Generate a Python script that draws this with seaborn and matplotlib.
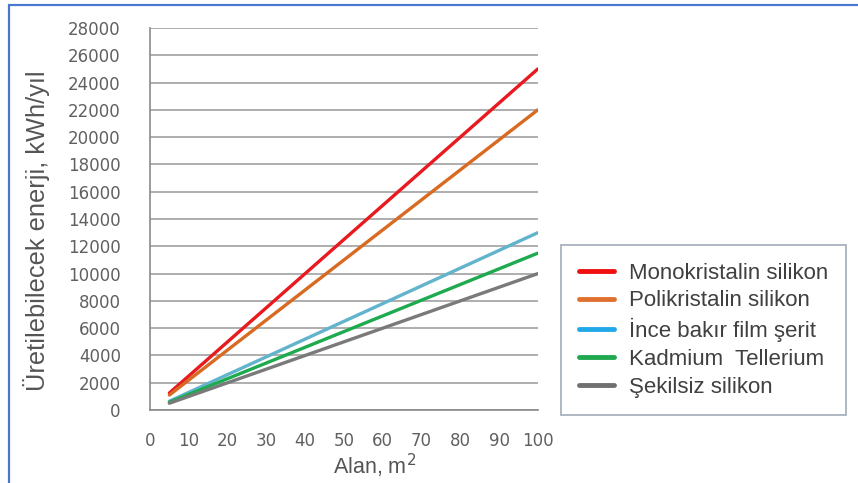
import pandas as pd
import numpy as np
import matplotlib
matplotlib.use('Agg')
import matplotlib.pyplot as plt
import seaborn as sns
from matplotlib.patches import Rectangle

# data
alan = [5, 100]
monokristalin = [1250, 25000]
polikristalin = [1100, 22000]
ince_bakir = [650, 13000]
kadmium = [575, 11500]
sekilsiz = [500, 10000]

series_names = ['Monokristalin silikon', 'Polikristalin silikon',
                'İnce bakır film şerit', 'Kadmium  Tellerium', 'Şekilsiz silikon']
series_values = [monokristalin, polikristalin, ince_bakir, kadmium, sekilsiz]
line_colors = ['#e81a1f', '#d86a22', '#62b3cc', '#1eaa4e', '#7a7a7a']
legend_colors = ['#f01010', '#e07030', '#20a8e8', '#20a850', '#707070']

x_ticks = list(range(0, 101, 10))
y_ticks = list(range(0, 28001, 2000))

df = pd.DataFrame({
    'Alan': np.tile(alan, len(series_names)),
    'Enerji': np.concatenate(series_values),
    'Tip': np.repeat(series_names, len(alan)),
})

sns.set_style('white')
plt.rcParams['font.family'] = ['Liberation Sans', 'DejaVu Sans']

fig = plt.figure(figsize=(8.58, 4.83), dpi=100)
ax = fig.add_axes([0.1748, 0.151, 0.452, 0.791])

sns.lineplot(data=df, x='Alan', y='Enerji', hue='Tip', hue_order=series_names,
             palette=dict(zip(series_names, line_colors)), linewidth=2.4,
             legend=False, ax=ax, zorder=3)

ax.set_xlim(0, 100)
ax.set_ylim(0, 28000)
ax.set_xticks(x_ticks)
ax.set_yticks(y_ticks)
ax.set_xticklabels([str(t) for t in x_ticks])
ax.set_yticklabels([str(t) for t in y_ticks])

tick_color = '#606060'
ax.tick_params(axis='both', colors='#8a8a8a', labelcolor=tick_color, labelsize=12,
               direction='out', width=1, labelfontfamily='DejaVu Sans')
ax.tick_params(axis='y', length=6, pad=15)
ax.tick_params(axis='x', length=3, pad=13)

ax.yaxis.grid(True, color='#a8a8a8', linewidth=1.3)
ax.xaxis.grid(False)
for side in ['top', 'right']:
    ax.spines[side].set_visible(False)
for side in ['left', 'bottom']:
    ax.spines[side].set_color('#8a8a8a')
    ax.spines[side].set_linewidth(1.2)

ax.set_xlabel('Alan, m$^2$', fontsize=15.5, color='#555555')
ax.set_ylabel('Üretilebilecek enerji, kWh/yıl', fontsize=18.3, color='#555555')
ax.xaxis.set_label_coords(0.58, -0.108)
ax.yaxis.set_label_coords(-0.258, 0.47)

# legend drawn outside the plot area
handles = [plt.Line2D([0], [0], color=c, linewidth=3.5) for c in legend_colors]
leg = fig.legend(handles, series_names, loc='upper left',
                 bbox_to_anchor=(561 / 858, 1 - 245 / 483), borderaxespad=0,
                 frameon=True, fontsize=16, handlelength=1.6, handletextpad=0.65,
                 labelspacing=0.3, borderpad=0.8, fancybox=False)
leg.get_frame().set_edgecolor('#8a96a6')
leg.get_frame().set_linewidth(1.2)
for t in leg.get_texts():
    t.set_color('#404040')

# blue frame of the slide (left and top edges visible)
fig.patches.append(Rectangle((9 / 858, -0.1), 1.2, 1 - 5 / 483 + 0.1,
                             transform=fig.transFigure, fill=False,
                             edgecolor='#4a78d0', linewidth=1.6))

plt.savefig('out.png', dpi=100)
